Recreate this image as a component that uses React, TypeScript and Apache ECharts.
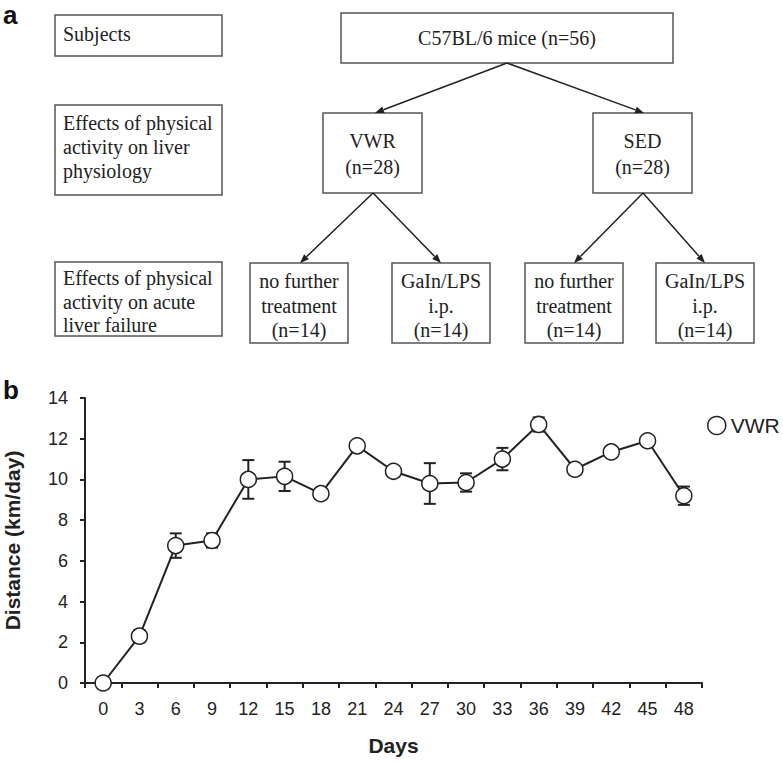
import React, { useEffect, useRef } from "react";
import * as echarts from "echarts";

// ---- Data (panel b) ----
const days: string[] = ["0", "3", "6", "9", "12", "15", "18", "21", "24", "27", "30", "33", "36", "39", "42", "45", "48"];
const distance: number[] = [0, 2.3, 6.75, 7.0, 10.0, 10.15, 9.3, 11.65, 10.4, 9.8, 9.85, 11.0, 12.7, 10.5, 11.35, 11.9, 9.2];
const sem: number[] = [0, 0.3, 0.6, 0.35, 0.95, 0.72, 0.15, 0.15, 0.25, 1.0, 0.45, 0.55, 0.35, 0.1, 0.1, 0.1, 0.45];
const seriesName = "VWR";
const yTicks = { min: 0, max: 14, interval: 2 };

// ---- Flowchart texts (panel a) ----
const rowLabels: string[][] = [
  ["Subjects"],
  ["Effects of physical", "activity on liver", "physiology"],
  ["Effects of physical", "activity on acute", "liver failure"],
];
const rootLabel = "C57BL/6 mice (n=56)";
const groupLabels: string[][] = [
  ["VWR", "(n=28)"],
  ["SED", "(n=28)"],
];
const leafLabels: string[][] = [
  ["no further", "treatment", "(n=14)"],
  ["GaIn/LPS", "i.p.", "(n=14)"],
  ["no further", "treatment", "(n=14)"],
  ["GaIn/LPS", "i.p.", "(n=14)"],
];

const SERIF = "'Liberation Serif', 'Times New Roman', serif";
const SANS = "'Liberation Sans', Arial, sans-serif";
const INK = "#222";
const BOX = "#555";

function rect(x: number, y: number, w: number, h: number) {
  return {
    type: "rect",
    shape: { x, y, width: w, height: h },
    style: { fill: "#fff", stroke: BOX, lineWidth: 1.5 },
    z: 1,
  };
}

function text(x: number, y: number, t: string, align: string, size = 20) {
  return {
    type: "text",
    x,
    y,
    style: {
      text: t,
      font: `${size}px ${SERIF}`,
      fill: INK,
      textAlign: align,
      textVerticalAlign: "middle",
      verticalAlign: "middle",
    },
    z: 2,
  };
}

function arrow(x1: number, y1: number, x2: number, y2: number) {
  const dx = x2 - x1;
  const dy = y2 - y1;
  const len = Math.sqrt(dx * dx + dy * dy);
  const ux = dx / len;
  const uy = dy / len;
  const hl = 9;
  const hw = 3.5;
  const bx = x2 - ux * hl;
  const by = y2 - uy * hl;
  return [
    {
      type: "line",
      shape: { x1, y1, x2: bx, y2: by },
      style: { stroke: INK, lineWidth: 1.5 },
      z: 3,
    },
    {
      type: "polygon",
      shape: {
        points: [
          [x2, y2],
          [bx - uy * hw, by + ux * hw],
          [bx + uy * hw, by - ux * hw],
        ],
      },
      style: { fill: INK },
      z: 3,
    },
  ];
}

function buildFlowchart(): any[] {
  const els: any[] = [];
  // panel letters
  els.push({
    type: "text",
    x: 3,
    y: 2,
    style: { text: "a", font: `bold 26px ${SANS}`, fill: "#111", textAlign: "left", textVerticalAlign: "top", verticalAlign: "top" },
  });
  els.push({
    type: "text",
    x: 3,
    y: 377,
    style: { text: "b", font: `bold 26px ${SANS}`, fill: "#111", textAlign: "left", textVerticalAlign: "top", verticalAlign: "top" },
  });

  // left description boxes
  const rowBoxes = [
    { y: 15, h: 41, lines: [34] },
    { y: 105, h: 90, lines: [123, 147, 171] },
    { y: 262, h: 74, lines: [278, 302, 325] },
  ];
  rowBoxes.forEach((b, i) => {
    els.push(rect(55, b.y, 167, b.h));
    rowLabels[i].forEach((t, j) => els.push(text(63, b.lines[j], t, "left")));
  });

  // root
  els.push(rect(341, 13, 332, 50));
  els.push(text(507, 38, rootLabel, "center"));

  // group boxes
  const groupX = [323, 593];
  groupX.forEach((gx, i) => {
    els.push(rect(gx, 113, 99, 80));
    els.push(text(gx + 49.5, 141, groupLabels[i][0], "center"));
    els.push(text(gx + 49.5, 167, groupLabels[i][1], "center"));
  });

  // leaf boxes
  const leafX = [250, 392, 525, 656];
  leafX.forEach((lx, i) => {
    els.push(rect(lx, 263, 98, 80));
    const ys = [281, 306, 330];
    leafLabels[i].forEach((t, j) => els.push(text(lx + 49, ys[j], t, "center")));
  });

  // arrows
  els.push(...arrow(507, 63, 375, 113));
  els.push(...arrow(507, 63, 644, 113));
  els.push(...arrow(373, 193, 300, 263));
  els.push(...arrow(373, 193, 441, 263));
  els.push(...arrow(643, 193, 574, 263));
  els.push(...arrow(643, 193, 705, 263));
  return els;
}

export default function App() {
  const ref = useRef<HTMLDivElement>(null);

  useEffect(() => {
    document.body.style.margin = "0";
    if (!ref.current) return;
    const chart = echarts.init(ref.current, null, { renderer: "svg" });

    const errData = days.map((_, i) => [i, distance[i], sem[i]]);

    const option: any = {
      animation: false,
      backgroundColor: "#fff",
      legend: {
        data: [seriesName],
        left: 702,
        top: 410,
        icon: "circle",
        itemWidth: 18,
        itemHeight: 18,
        itemStyle: { color: "#fff", borderColor: INK, borderWidth: 1.5 },
        textStyle: { fontSize: 21, fontFamily: SANS, color: INK },
      },
      grid: { left: 85, right: 81, top: 398, bottom: 81, containLabel: false, outerBoundsMode: "none" },
      xAxis: {
        type: "category",
        data: days,
        boundaryGap: true,
        name: "Days",
        nameLocation: "middle",
        nameGap: 52,
        nameTextStyle: { fontSize: 21, fontWeight: "bold", fontFamily: SANS, color: INK },
        axisLine: { lineStyle: { color: INK, width: 2 } },
        axisTick: { show: true, length: 5, inside: false, lineStyle: { color: INK, width: 2 } },
        axisLabel: { fontSize: 18, fontFamily: SANS, color: INK, margin: 17, interval: 0 },
        splitLine: { show: false },
      },
      yAxis: {
        type: "value",
        min: yTicks.min,
        max: yTicks.max,
        interval: yTicks.interval,
        name: "Distance (km/day)",
        nameLocation: "middle",
        nameGap: 62,
        nameRotate: 90,
        nameTextStyle: { fontSize: 21, fontWeight: "bold", fontFamily: SANS, color: INK },
        axisLine: { show: true, lineStyle: { color: INK, width: 2 } },
        axisTick: { show: true, length: 5, lineStyle: { color: INK, width: 2 } },
        axisLabel: { fontSize: 18, fontFamily: SANS, color: INK, margin: 17 },
        splitLine: { show: false },
      },
      series: [
        {
          type: "custom",
          name: "err",
          z: 1,
          silent: true,
          data: errData,
          renderItem: (params: any, api: any) => {
            const i = api.value(0);
            const v = api.value(1);
            const e = api.value(2);
            if (!e) return null;
            const top = api.coord([i, v + e]);
            const bot = api.coord([i, v - e]);
            const cw = 6;
            const st = { stroke: INK, lineWidth: 2 };
            return {
              type: "group",
              children: [
                { type: "line", shape: { x1: top[0], y1: top[1], x2: bot[0], y2: bot[1] }, style: st },
                { type: "line", shape: { x1: top[0] - cw, y1: top[1], x2: top[0] + cw, y2: top[1] }, style: st },
                { type: "line", shape: { x1: bot[0] - cw, y1: bot[1], x2: bot[0] + cw, y2: bot[1] }, style: st },
              ],
            };
          },
        },
        {
          type: "line",
          name: seriesName,
          z: 3,
          data: distance,
          symbol: "circle",
          symbolSize: 16,
          lineStyle: { color: INK, width: 2 },
          itemStyle: { color: "#fff", borderColor: INK, borderWidth: 1.5 },
        },
      ],
      graphic: buildFlowchart(),
    };

    chart.setOption(option);
    return () => chart.dispose();
  }, []);

  return <div ref={ref} style={{ width: 783, height: 764 }} />;
}
